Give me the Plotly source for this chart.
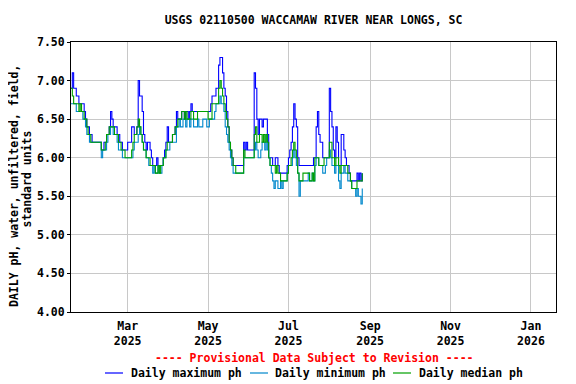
import plotly.graph_objects as go
import pandas as pd

# ---- data (daily pH, starting 2025-01-17) ----
start_date = "2025-01-17"

max_ph = [
    6.9, 7.1, 6.9, 6.9, 6.8, 6.8, 6.7, 6.7, 6.7,
    6.7, 6.6, 6.5, 6.4, 6.4, 6.3, 6.3, 6.2, 6.2, 6.2,
    6.2, 6.2, 6.2, 6.2, 6.1, 6.1, 6.2, 6.2, 6.3, 6.3, 6.4,
    6.6, 6.5, 6.4, 6.4, 6.4, 6.3, 6.3, 6.2, 6.2, 6.1,
    6.1, 6.1, 6.1, 6.2, 6.2, 6.2, 6.4, 6.4, 6.3, 6.3,
    6.4, 7.0, 6.8, 6.8, 6.6, 6.3, 6.2, 6.1, 6.2, 6.2,
    6.1, 6.0, 5.9, 5.9, 5.9, 6.0, 5.9, 5.9, 5.9, 5.9,
    6.0, 6.1, 6.2, 6.4, 6.2, 6.2, 6.2, 6.3, 6.3, 6.4,
    6.6, 6.5, 6.5, 6.5, 6.6, 6.6, 6.5, 6.6, 6.6, 6.5,
    6.6, 6.7, 6.6, 6.6, 6.6, 6.6, 6.6, 6.6, 6.6, 6.6, 6.6,
    6.6, 6.6, 6.6, 6.6, 6.6, 6.7, 6.8, 6.8, 6.8, 6.9,
    6.9, 7.2, 7.3, 7.3, 7.1, 6.9, 6.8, 6.6, 6.4, 6.2,
    6.1, 6.0, 5.9, 5.9, 5.9, 5.9, 5.9, 5.9, 5.9, 5.9, 6.2,
    6.1, 6.2, 6.1, 6.1, 6.1, 6.1, 6.1, 7.1, 6.9, 6.5,
    6.3, 6.5, 6.5, 6.4, 6.5, 6.5, 6.5, 6.3, 6.0, 6.0,
    6.0, 5.9, 5.9, 6.0, 6.0, 5.9, 5.8, 5.8, 5.8, 5.8,
    5.8, 5.8, 5.9, 6.0, 6.1, 6.2, 6.4, 6.7, 6.5, 6.4,
    6.0, 5.9, 5.9, 5.9, 5.9, 5.9, 5.9, 5.9, 5.9, 5.9, 5.9,
    5.9, 6.0, 6.0, 6.4, 6.6, 6.3, 6.2, 6.2, 6.0, 6.0,
    6.0, 6.0, 6.0, 6.9, 6.6, 6.4, 6.1, 6.0, 6.4, 6.2,
    5.9, 5.9, 6.3, 6.3, 6.1, 6.0, 5.9, 5.9, 5.8, 5.7,
    5.7, 5.7, 5.7, 5.7, 5.8, 5.7, 5.8, 5.7, 5.8,
]

min_ph = [
    6.7, 6.7, 6.7, 6.7, 6.6, 6.6, 6.6, 6.6, 6.6,
    6.5, 6.5, 6.4, 6.3, 6.3, 6.2, 6.2, 6.2, 6.2, 6.2,
    6.2, 6.2, 6.2, 6.2, 6.0, 6.1, 6.1, 6.1, 6.2, 6.3, 6.3,
    6.4, 6.4, 6.3, 6.3, 6.3, 6.2, 6.1, 6.1, 6.1, 6.0,
    6.0, 6.0, 6.0, 6.0, 6.0, 6.0, 6.0, 6.1, 6.2, 6.2,
    6.2, 6.3, 6.4, 6.3, 6.2, 6.1, 6.1, 6.0, 6.0, 5.9,
    5.9, 5.9, 5.8, 5.9, 5.8, 5.8, 5.9, 5.8, 5.8, 5.9,
    6.0, 6.0, 6.1, 6.1, 6.1, 6.2, 6.2, 6.2, 6.2, 6.2,
    6.4, 6.4, 6.5, 6.4, 6.4, 6.5, 6.5, 6.4, 6.5, 6.5,
    6.4, 6.5, 6.5, 6.4, 6.4, 6.4, 6.5, 6.4, 6.4, 6.4, 6.5,
    6.5, 6.5, 6.4, 6.4, 6.5, 6.5, 6.5, 6.5, 6.6, 6.7,
    6.7, 6.7, 6.8, 6.7, 6.7, 6.6, 6.4, 6.3, 6.2, 6.1,
    6.0, 5.9, 5.8, 5.8, 5.8, 5.8, 5.8, 5.8, 5.8, 5.8, 6.0,
    6.0, 6.0, 6.0, 6.0, 6.0, 6.0, 6.0, 6.1, 6.2, 6.1,
    6.0, 6.0, 6.1, 6.2, 6.2, 6.1, 6.3, 6.1, 6.0, 5.9,
    5.8, 5.7, 5.6, 5.7, 5.7, 5.6, 5.6, 5.7, 5.6, 5.7,
    5.7, 5.7, 5.8, 5.9, 5.9, 5.9, 6.0, 6.1, 6.0, 5.9,
    5.8, 5.5, 5.7, 5.7, 5.7, 5.7, 5.7, 5.7, 5.8, 5.7, 5.7,
    5.8, 5.7, 5.9, 6.0, 6.0, 5.9, 5.9, 5.9, 5.8, 5.8,
    5.9, 6.0, 6.0, 6.1, 6.0, 5.9, 5.9, 5.8, 5.9, 5.9,
    5.7, 5.6, 5.8, 5.8, 5.9, 5.8, 5.8, 5.7, 5.7, 5.7,
    5.6, 5.6, 5.6, 5.5, 5.6, 5.5, 5.5, 5.4, 5.6,
]

median_ph = [
    6.9, 6.8, 6.7, 6.7, 6.7, 6.7, 6.6, 6.7, 6.6,
    6.6, 6.5, 6.5, 6.4, 6.3, 6.3, 6.2, 6.2, 6.2, 6.2,
    6.2, 6.2, 6.2, 6.2, 6.1, 6.1, 6.1, 6.2, 6.3, 6.3, 6.4,
    6.4, 6.4, 6.4, 6.3, 6.3, 6.3, 6.2, 6.2, 6.1, 6.1,
    6.1, 6.0, 6.0, 6.0, 6.0, 6.0, 6.1, 6.2, 6.3, 6.3,
    6.4, 6.5, 6.4, 6.3, 6.2, 6.1, 6.1, 6.0, 6.0, 6.0,
    5.9, 5.9, 5.9, 5.9, 5.8, 5.8, 5.9, 5.8, 5.9, 5.9,
    6.0, 6.0, 6.1, 6.2, 6.2, 6.2, 6.2, 6.3, 6.3, 6.4,
    6.4, 6.5, 6.5, 6.5, 6.6, 6.6, 6.5, 6.6, 6.5, 6.5,
    6.5, 6.6, 6.6, 6.5, 6.5, 6.5, 6.6, 6.6, 6.6, 6.6, 6.6,
    6.6, 6.6, 6.6, 6.5, 6.5, 6.5, 6.7, 6.7, 6.7, 6.7,
    6.7, 6.9, 7.0, 6.9, 6.8, 6.7, 6.6, 6.5, 6.4, 6.2,
    6.1, 6.0, 5.9, 5.9, 5.8, 5.8, 5.8, 5.8, 5.8, 5.8, 6.1,
    6.0, 6.0, 6.0, 6.0, 6.0, 6.0, 6.0, 6.3, 6.4, 6.2,
    6.2, 6.3, 6.3, 6.2, 6.3, 6.2, 6.3, 6.2, 6.0, 5.9,
    5.9, 5.9, 5.9, 5.8, 5.9, 5.8, 5.8, 5.7, 5.7, 5.7,
    5.7, 5.7, 5.8, 5.9, 5.9, 6.0, 6.1, 6.2, 6.1, 6.0,
    5.8, 5.7, 5.7, 5.7, 5.8, 5.8, 5.8, 5.8, 5.8, 5.7, 5.7,
    5.8, 5.7, 6.0, 6.0, 6.0, 5.9, 5.9, 5.9, 5.9, 6.0,
    6.0, 6.0, 6.0, 6.2, 6.2, 6.0, 6.0, 5.9, 6.0, 6.0,
    5.9, 5.8, 5.9, 5.9, 5.9, 5.9, 5.9, 5.8, 5.8, 5.7,
    5.6, 5.6, 5.6, 5.6, 5.7, 5.7, 5.7, 5.7, 5.8,
]

x_tick_dates = ["2025-03-01", "2025-05-01", "2025-07-01", "2025-09-01", "2025-11-01", "2026-01-01"]
x_tick_text = ["Mar<br>2025", "May<br>2025", "Jul<br>2025", "Sep<br>2025", "Nov<br>2025", "Jan<br>2026"]
y_ticks = [4.0, 4.5, 5.0, 5.5, 6.0, 6.5, 7.0, 7.5]
y_title_lines = ["DAILY pH, water, unfiltered, field,", "standard units"]

series_names = ["Daily maximum ph", "Daily minimum ph", "Daily median ph"]
series_values = [max_ph, min_ph, median_ph]
series_colors = ["#0000ff", "#0088cc", "#00a000"]

FONT = "DejaVu Sans Mono"
FS = 11.5

# The page draws the figure 8px in from the window's top-left corner,
# so the figure is sized / laid out to fill the 576x384 window from there.
OFF = 8
W, H = 576 - OFF, 384 - OFF
# target plot area in window pixels: x 71..556, y 42..312
L, T = 71 - OFF, 42 - OFF
R, B = W - (556 - OFF), H - (312 - OFF)
PW, PH = W - L - R, H - T - B


def px_x(wx):
    """window x pixel -> paper x"""
    return (wx - OFF - L) / PW


def px_y(wy):
    """window y pixel -> paper y"""
    return (H - B - (wy - OFF)) / PH


fig = go.Figure()
for name, vals, color in zip(series_names, series_values, series_colors):
    dates = pd.date_range(start_date, periods=len(vals), freq="D")
    fig.add_trace(go.Scatter(
        x=dates, y=vals, mode="lines", name=name, showlegend=False,
        line=dict(color=color, width=1.1, shape="hv"),
    ))

# custom legend (short line samples like the reference)
legend_line_x = [(105, 123), (250, 268), (393, 411)]
legend_text_x = [129, 273, 417]
legend_y = 373
shapes = []
annotations = []
for (x0, x1), tx, name, color in zip(legend_line_x, legend_text_x, series_names, series_colors):
    shapes.append(dict(
        type="line", xref="paper", yref="paper",
        x0=px_x(x0), x1=px_x(x1), y0=px_y(legend_y), y1=px_y(legend_y),
        line=dict(color=color, width=1.2),
    ))
    annotations.append(dict(
        text=name, xref="paper", yref="paper",
        x=px_x(tx), xanchor="left", y=px_y(legend_y), yanchor="middle",
        showarrow=False,
        font=dict(family=FONT, size=FS, color="black", weight="bold"),
    ))

# y-axis title, two rotated lines
for text, cx, cy in zip(y_title_lines, [14, 26.5], [186, 179]):
    annotations.append(dict(
        text=text, textangle=-90, xref="paper", yref="paper",
        x=px_x(cx), xanchor="center",
        y=px_y(cy), yanchor="middle", showarrow=False,
        font=dict(family=FONT, size=FS, color="black", weight="bold"),
    ))

annotations.append(dict(
    text="---- Provisional Data Subject to Revision ----",
    xref="paper", yref="paper", x=px_x(314), xanchor="center",
    y=px_y(358), yanchor="middle", showarrow=False,
    font=dict(family=FONT, size=FS, color="#ff0000", weight="bold"),
))

fig.update_layout(
    width=W, height=H,
    margin=dict(l=L, r=R, t=T, b=B, autoexpand=False),
    paper_bgcolor="white", plot_bgcolor="white",
    font=dict(family=FONT, size=FS, color="black", weight="bold"),
    title=dict(
        text="USGS 02110500 WACCAMAW RIVER NEAR LONGS, SC",
        x=0.5, xref="paper", xanchor="center",
        y=1 - (20 - OFF) / H, yref="container", yanchor="middle",
        font=dict(family=FONT, size=FS, color="black", weight="bold"),
    ),
    showlegend=False,
    xaxis=dict(
        type="date", range=["2025-01-17", "2026-01-20"],
        tickmode="array", tickvals=x_tick_dates, ticktext=x_tick_text,
        showgrid=True, gridcolor="#c8c8c8", gridwidth=1,
        showline=True, linecolor="black", linewidth=1, mirror=True,
        ticks="", zeroline=False, automargin=False, ticklabelstandoff=3,
        tickfont=dict(family=FONT, size=FS, color="black", weight="bold"),
    ),
    yaxis=dict(
        range=[4.0, 7.5], tickmode="array", tickvals=y_ticks,
        tickformat=".2f",
        showgrid=True, gridcolor="#c8c8c8", gridwidth=1,
        showline=True, linecolor="black", linewidth=1, mirror=True,
        ticks="outside", ticklen=3, tickcolor="black", zeroline=False,
        automargin=False,
        tickfont=dict(family=FONT, size=FS, color="black", weight="bold"),
    ),
    shapes=shapes,
    annotations=annotations,
)

fig.write_html("out.html")
